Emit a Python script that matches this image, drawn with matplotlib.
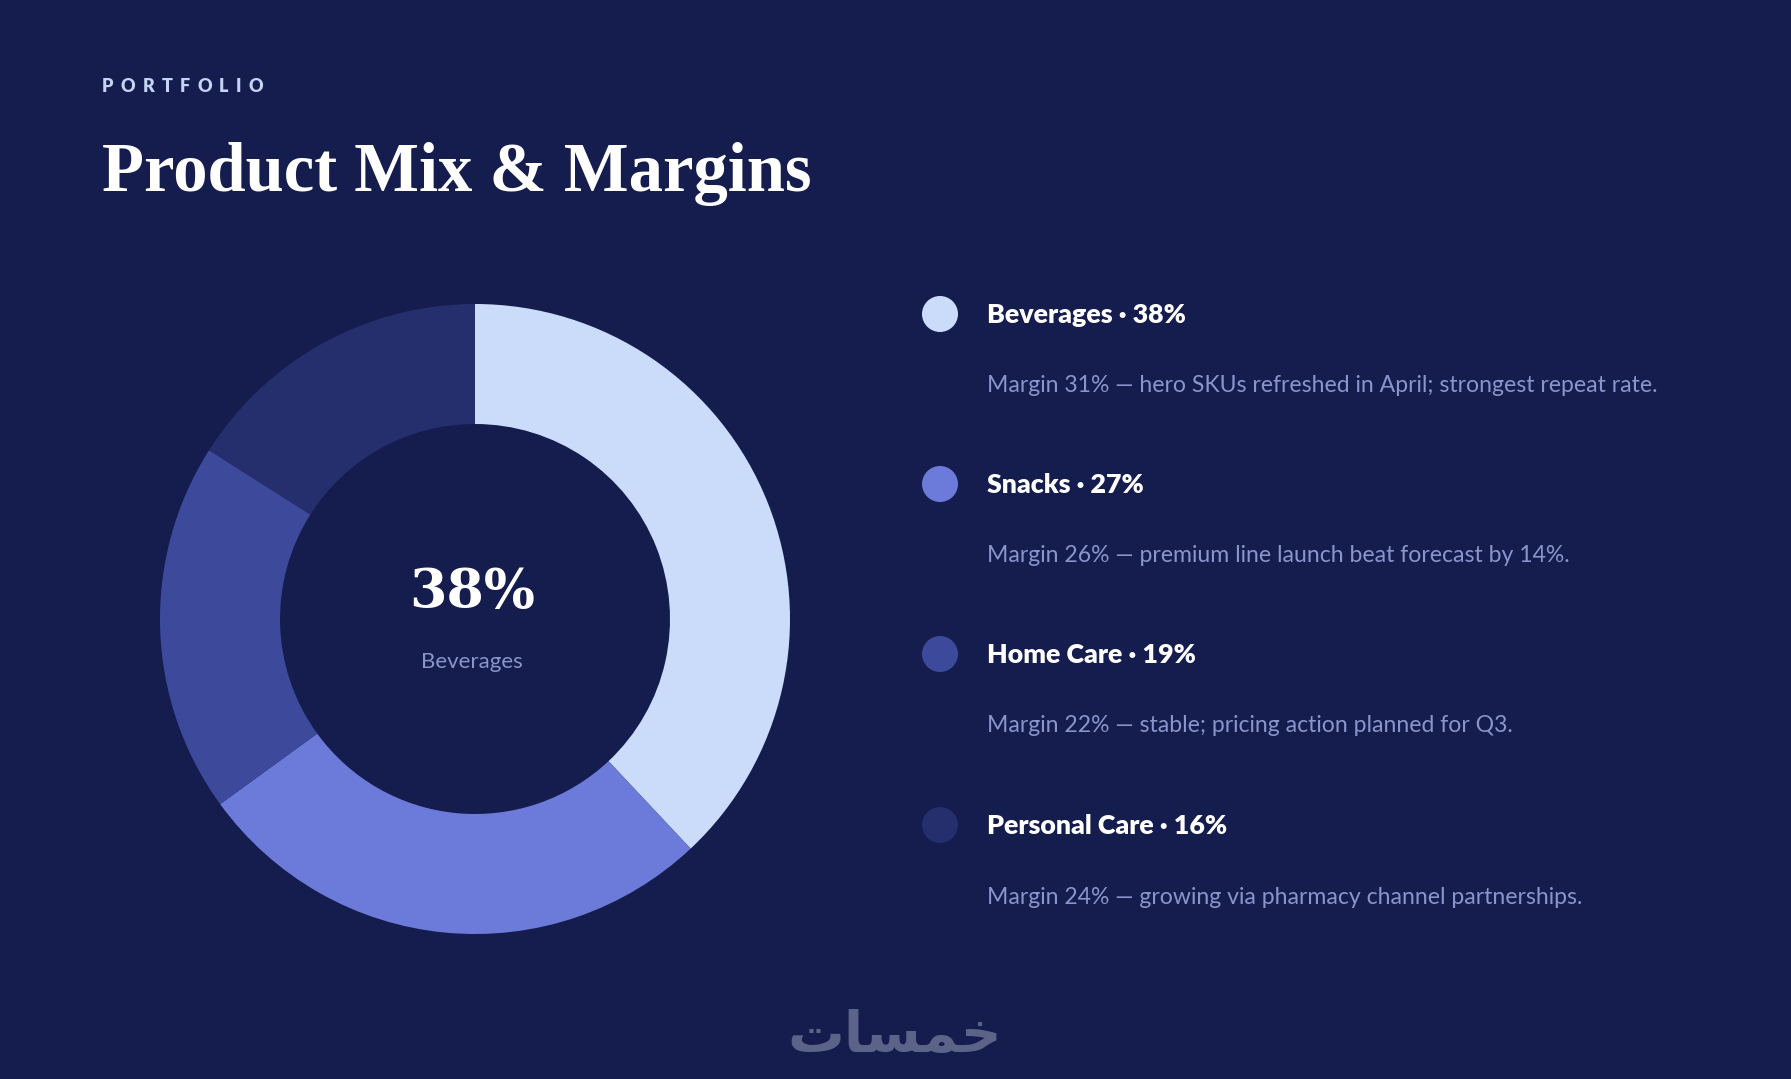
import matplotlib
matplotlib.use("Agg")
import matplotlib.pyplot as plt
from matplotlib.patches import Circle

# data
categories = ["Beverages", "Snacks", "Home Care", "Personal Care"]
shares = [38, 27, 19, 16]
margins = [31, 26, 22, 24]
notes = [
    "hero SKUs refreshed in April; strongest repeat rate.",
    "premium line launch beat forecast by 14%.",
    "stable; pricing action planned for Q3.",
    "growing via pharmacy channel partnerships.",
]
colors = ["#CADCFA", "#6C7BDA", "#3D4A9C", "#262F6E"]

BG = "#151C4E"
MUTED = "#8A95CB"
W, H = 1791, 1079

fig = plt.figure(figsize=(W / 100, H / 100), dpi=100, facecolor=BG)
ax = fig.add_axes([0, 0, 1, 1])
ax.set_xlim(0, W)
ax.set_ylim(0, H)
ax.set_aspect("equal")
ax.axis("off")
ax.set_facecolor(BG)
renderer = fig.canvas.get_renderer()


def fit_width(txt, width_px):
    w = txt.get_window_extent(renderer).width
    txt.set_fontsize(txt.get_fontsize() * width_px / w)


def Y(y):
    # y measured from the top of the image
    return H - y


# kicker with letter spacing
x = 102
for ch in "PORTFOLIO":
    t = ax.text(x, Y(86), ch, fontsize=13, fontweight="heavy", family="Lato",
                color="#C5D3F5", va="center", ha="left")
    x += t.get_window_extent(renderer).width + 7.3

title = ax.text(102, Y(191), "Product Mix & Margins", fontsize=50, fontweight="bold",
                family="Liberation Serif", color="white", ha="left", va="baseline")
fit_width(title, 710)

# donut
ax.pie(shares, colors=colors, startangle=90, counterclock=False,
       center=(475, Y(619)), radius=315, frame=True,
       wedgeprops=dict(width=120, linewidth=0))
ax.set_xlim(0, W)
ax.set_ylim(0, H)
ax.axis("off")

big = ax.text(472, Y(593), f"{shares[0]}%", fontsize=44, fontweight="bold",
              family="DejaVu Serif", color="white", ha="center", va="center")
fit_width(big, 126)
ax.text(472, Y(662), categories[0], fontsize=16, family="Lato",
        color=MUTED, ha="center", va="center")

# legend rows
row_y = [315, 485, 655, 826]
label_size = None
desc_size = None
for cat, share, marg, note, col, ry in zip(categories, shares, margins, notes, colors, row_y):
    ax.add_patch(Circle((940, Y(ry - 1)), 18, color=col, lw=0))
    lab = ax.text(987, Y(ry), f"{cat} \u00b7 {share}%", fontsize=18, fontweight="heavy",
                  family="Lato", color="white", ha="left", va="center")
    d = ax.text(987, Y(ry + 71), f"Margin {marg}% \u2014 {note}", fontsize=15,
                family="Lato", color=MUTED, ha="left", va="center")
    if label_size is None:
        fit_width(lab, 199)
        label_size = lab.get_fontsize()
        fit_width(d, 672)
        desc_size = d.get_fontsize()
    else:
        lab.set_fontsize(label_size)
        d.set_fontsize(desc_size)

# watermark
wm = ax.text(895, Y(1037), "\uFE95\uFE8E\uFEB4\uFEE4\uFEA7", fontsize=46,
             family="DejaVu Sans", fontweight="bold", color="#5B6388",
             ha="center", va="center")
fit_width(wm, 214)

fig.savefig("out.png", dpi=100, facecolor=BG)
